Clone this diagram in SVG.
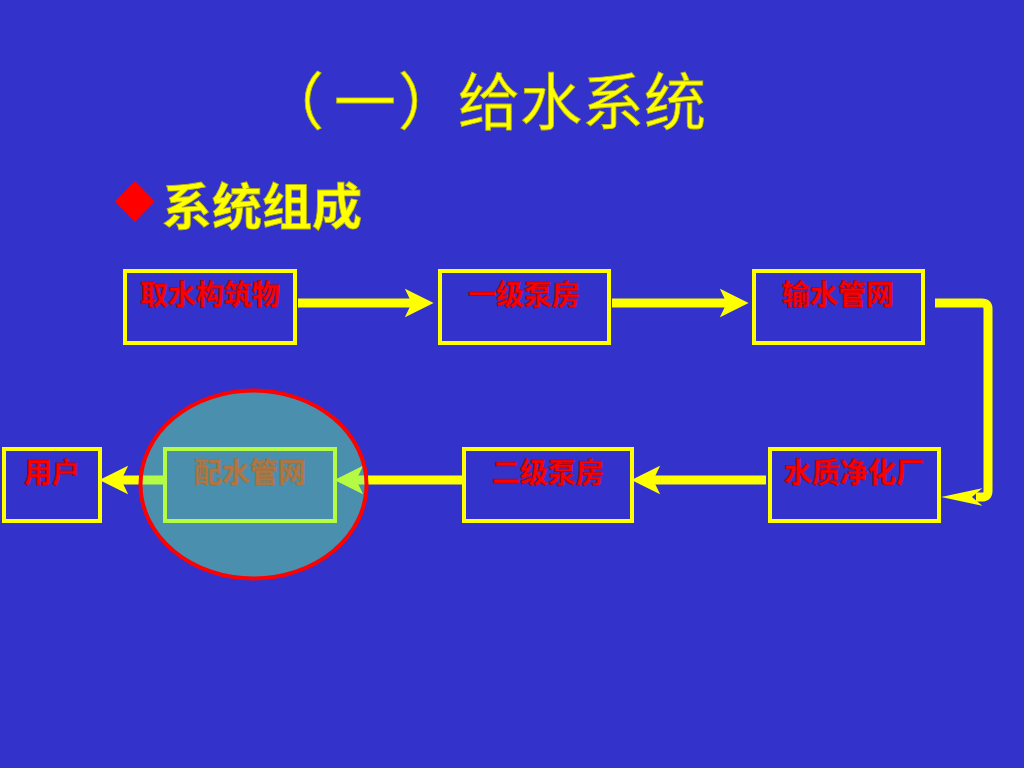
<svg xmlns="http://www.w3.org/2000/svg" width="1024" height="768" viewBox="0 0 1024 768">
<defs>
<style>
.box{fill:none;stroke:#FFFF00;stroke-width:4}
.lbl{font-family:"Noto Sans CJK SC","Noto Sans CJK TC",sans-serif;font-size:28px;font-weight:700;fill:#FF0000;stroke:#B00000;stroke-width:0.6;text-anchor:middle}
.con{fill:none;stroke:#FFFF00;stroke-width:9;marker-end:url(#ah)}
.ttl{font-family:"Noto Sans CJK SC","Noto Sans CJK TC",sans-serif;fill:#FFFF00;stroke:#B8B800;stroke-width:0.8}
</style>
<marker id="ah" markerUnits="userSpaceOnUse" markerWidth="30" markerHeight="30" viewBox="0 -13 26 26" refX="8" refY="0" orient="auto">
<path d="M0,-12.5 L25,0 L0,12.5 L6,0 Z" fill="#FFFF00"/>
</marker>
<marker id="ah2" markerUnits="userSpaceOnUse" markerWidth="42" markerHeight="20" viewBox="0 -9 41 18" refX="6" refY="0" orient="auto">
<path d="M0,-8.5 L40,0 L0,8.5 L10,0 Z" fill="#FFFF00"/>
</marker>
</defs>
<rect x="0" y="0" width="1024" height="768" fill="#3333CC"/>
<text class="ttl" x="262 334 398 458 520 582 644" y="125" font-size="62">（一）给水系统</text>
<g id="bullet">
<path d="M135,181 L155,201.5 L135,222 L115,201.5 Z" fill="#FF0000"/>
<text class="ttl" x="162" y="225" font-size="50" font-weight="700">系统组成</text>
</g>
<g id="connectors">
<path class="con" d="M298,303 H414"/>
<path class="con" d="M612,303 H729"/>
<path class="con" d="M935,303 H982 Q988,303 988,309 V491 Q988,497 982,497 H976" style="marker-end:url(#ah2)"/>
<path class="con" d="M766,480 H651"/>
<path class="con" d="M462,480 H354"/>
<path class="con" d="M163,480 H119"/>
</g>
<g id="n1"><rect class="box" x="125" y="271" width="170" height="72"/><text class="lbl" x="210" y="305">取水构筑物</text></g>
<g id="n2"><rect class="box" x="440" y="271" width="169" height="72"/><text class="lbl" x="524" y="305">一级泵房</text></g>
<g id="n3"><rect class="box" x="754" y="271" width="169" height="72"/><text class="lbl" x="838" y="305">输水管网</text></g>
<g id="n4"><rect class="box" x="770" y="449" width="169" height="72"/><text class="lbl" x="854" y="483">水质净化厂</text></g>
<g id="n5"><rect class="box" x="464" y="449" width="168" height="72"/><text class="lbl" x="548" y="483">二级泵房</text></g>
<g id="n6"><rect class="box" x="165" y="449" width="170" height="72"/><text class="lbl" x="250" y="483">配水管网</text>
<ellipse cx="253.5" cy="484.5" rx="113" ry="94" fill="rgb(100,245,140)" fill-opacity="0.48" stroke="#FF0000" stroke-width="4"/></g>
<g id="n7"><rect class="box" x="4" y="449" width="96" height="72"/><text class="lbl" x="52" y="483">用户</text></g>
</svg>
